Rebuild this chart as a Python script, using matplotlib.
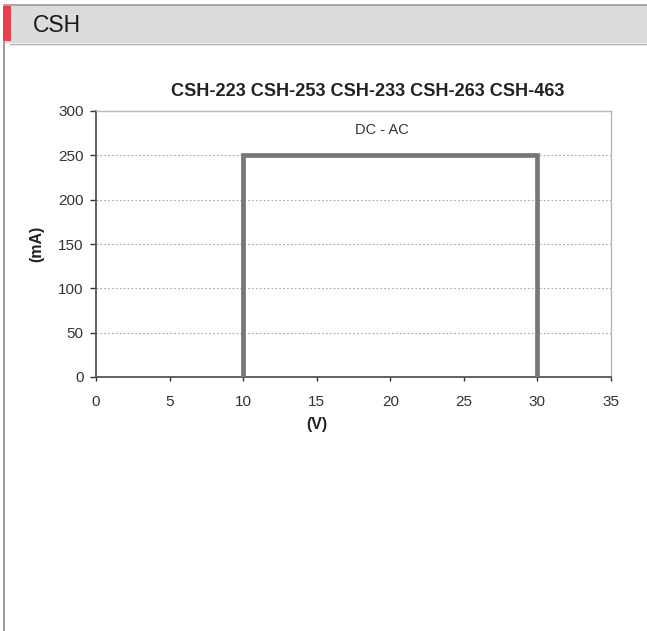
import matplotlib
matplotlib.use("Agg")
import matplotlib.pyplot as plt
from matplotlib.patches import Rectangle
from matplotlib.lines import Line2D

plt.rcParams['font.family'] = ['Liberation Sans', 'DejaVu Sans']

# Operating window: voltage (V) vs current (mA)
voltage = [10, 10, 30, 30]
current = [0, 250, 250, 0]
x_ticks = [0, 5, 10, 15, 20, 25, 30, 35]
y_ticks = [0, 50, 100, 150, 200, 250, 300]
title = "CSH-223 CSH-253 CSH-233 CSH-263 CSH-463"
header = "CSH"
note = "DC - AC"

W, H = 647, 631
fig = plt.figure(figsize=(W / 100, H / 100), dpi=100)
fig.patch.set_facecolor('white')

def fx(px):
    return px / W

def fy(py):
    return 1 - py / H

# header bar
fig.patches.append(Rectangle((fx(4), fy(43)), fx(W) - fx(4), fy(5) - fy(43),
                             transform=fig.transFigure, facecolor='#dcdcdc',
                             edgecolor='none', zorder=0))
fig.add_artist(Line2D([fx(4), 1], [fy(5), fy(5)], color='#9a9a9a', lw=1.2))
fig.add_artist(Line2D([fx(10), 1], [fy(43.5), fy(43.5)], color='#b0b0b0', lw=1.0))
fig.patches.append(Rectangle((fx(3), fy(41)), fx(8), fy(6) - fy(41),
                             transform=fig.transFigure, facecolor='#e8404a',
                             edgecolor='none', zorder=1))
fig.add_artist(Line2D([fx(3.5), fx(3.5)], [0, fy(41)], color='#8a8a8a', lw=1.2))
fig.text(fx(33), fy(25.5), header, fontsize=16.5, color='#1a1a1a', va='center', ha='left')

# plot area
left, right, top, bottom = 96, 611, 111, 377
ax = fig.add_axes([fx(left), fy(bottom), fx(right) - fx(left), fy(top) - fy(bottom)])
ax.set_xlim(0, 35)
ax.set_ylim(0, 300)
ax.set_xticks(x_ticks)
ax.set_yticks(y_ticks)
ax.tick_params(labelsize=11, colors='#333333', length=4, width=1, direction='out')
ax.tick_params(axis='x', pad=10, length=3)
ax.tick_params(axis='y', pad=5)
for s in ('left', 'bottom'):
    ax.spines[s].set_color('#555555')
    ax.spines[s].set_linewidth(1.3)
for s in ('top', 'right'):
    ax.spines[s].set_color('#b8b8b8')
    ax.spines[s].set_linewidth(1.0)
ax.yaxis.grid(True, linestyle=(0, (1.5, 2)), color='#a8a8a8', linewidth=0.8)
ax.set_axisbelow(True)

ax.plot(voltage, current, color='#777777', lw=3.4, solid_joinstyle='miter',
        solid_capstyle='butt', zorder=3)

ax.text(19.45, 279, note, fontsize=10.5, color='#333333', ha='center', va='center')
fig.text(fx(368), fy(92), title, fontsize=13.1, fontweight='bold', color='#222222',
         ha='center', va='center')
fig.text(fx(317), fy(425), "(V)", fontsize=11.5, fontweight='bold', color='#222222',
         ha='center', va='center')
fig.text(fx(37), fy(244), "(mA)", fontsize=11.5, fontweight='bold', color='#222222',
         ha='center', va='center', rotation=90)

fig.savefig("out.png", dpi=100)
